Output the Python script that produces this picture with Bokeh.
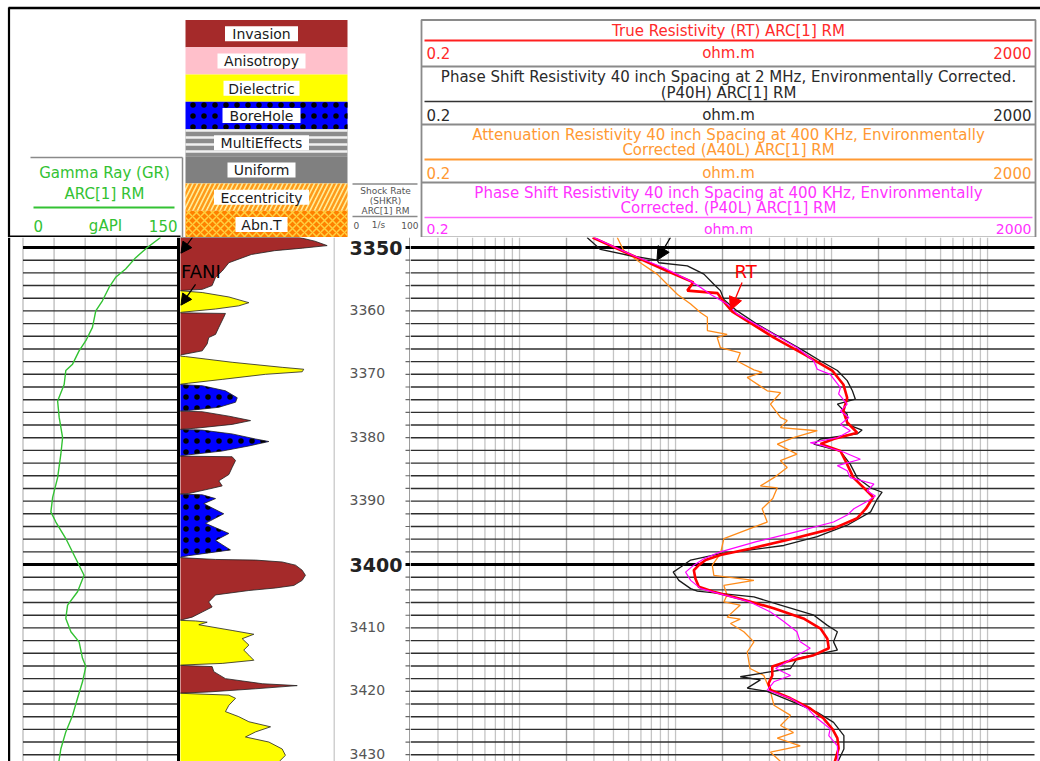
from bokeh.plotting import figure
from bokeh.layouts import column, row
from bokeh.models import Range1d, Arrow, NormalHead
from bokeh.core.properties import value
from bokeh.embed import file_html
from bokeh.resources import INLINE

FONT = value("DejaVu Sans")

# ---------------- data ----------------
DEPTH_TOP = 3348.42
DEPTH_BOTTOM = 3431.07
depth_lines = list(range(3350, 3431, 2))
depth_major = [3350, 3400]
depth_minor_labels = [3360, 3370, 3380, 3390, 3410, 3420, 3430]

gr_ticks = [0, 30, 60, 90, 120]
gr_depth = [3348.42, 3350.0, 3351.6, 3353.4, 3354.7, 3356.3, 3358.4, 3360.0, 3362.6, 3364.7,
            3366.3, 3368.4, 3369.4, 3371.6, 3374.2, 3376.8, 3380.0, 3382.6, 3386.3, 3389.4,
            3391.7, 3393.3, 3395.9, 3399.1, 3401.7, 3404.3, 3406.4, 3408.5, 3410.6, 3412.2,
            3414.8, 3416.1, 3418.5, 3421.1, 3423.8, 3426.4, 3429.1, 3431.07]
gr_api = [132.7, 119.9, 108.7, 99.0, 89.4, 83.0, 76.6, 70.2, 67.0, 60.6,
          54.1, 47.8, 41.3, 39.7, 33.4, 34.9, 38.2, 36.5, 33.4, 28.6,
          26.9, 31.7, 41.3, 51.0, 58.9, 52.6, 43.0, 41.3, 46.2, 54.1,
          57.4, 60.6, 57.4, 52.6, 47.8, 41.3, 36.5, 34.6]

res_grid = [0.3, 0.4, 0.5, 0.6, 0.7, 0.8, 0.9, 1, 3, 4, 5, 6, 7, 8, 9, 10,
            30, 40, 50, 60, 70, 80, 90, 100, 300, 400, 500, 600, 700, 800, 900, 1000]
res_decades = [2, 20, 200]

rt_depth = [3348.42, 3351.6, 3353.7, 3355.5, 3356.8, 3357.2, 3358.3, 3360.1, 3364.2, 3366.8,
            3369.4, 3371.6, 3373.7, 3375.8, 3377.6, 3379.2, 3380.2, 3381.0, 3382.1, 3384.2,
            3386.3, 3388.4, 3389.4, 3391.2, 3392.7, 3394.3, 3395.9, 3397.5, 3398.5, 3399.3,
            3400.1, 3400.9, 3402.2, 3403.5, 3404.3, 3405.4, 3406.9, 3408.5, 3410.1, 3411.7,
            3413.2, 3414.3, 3415.3, 3416.1, 3417.5, 3418.8, 3419.8, 3421.1, 3422.7, 3424.3,
            3425.9, 3427.4, 3429.0, 3431.07]
rt_val = [2.94, 5.68, 8.84, 13.0, 11.9, 18.6, 20.0, 23.1, 42.7, 66.4,
          101, 119, 126, 119, 126, 146, 103, 85, 114, 126,
          138, 169, 185, 166, 146, 103, 57, 30, 19.4, 15.6,
          14.1, 13.1, 13.4, 14.1, 17.5, 26, 42.5, 66, 85, 94,
          96, 77, 52, 41.7, 41.7, 39.4, 40.6, 54.6, 73, 89,
          101, 109, 111, 105]

p40h_depth = [3348.42, 3350.3, 3351.3, 3352.0, 3352.4, 3352.9, 3354.2, 3355.8, 3356.8, 3358.2,
              3360.0, 3362.1, 3364.2, 3366.3, 3367.9, 3369.4, 3371.0, 3372.6, 3373.9, 3374.7,
              3376.3, 3377.9, 3378.8, 3379.4, 3380.2, 3381.0, 3382.1, 3384.2, 3386.3, 3387.9,
              3388.6, 3389.7, 3391.7, 3393.8, 3395.6, 3397.0, 3398.3, 3399.3, 3400.4, 3401.2,
              3402.5, 3403.8, 3404.2, 3405.1, 3406.4, 3408.0, 3409.6, 3410.6, 3412.2, 3413.5,
              3414.8, 3416.4, 3417.7, 3418.2, 3419.5, 3420.0, 3421.7, 3423.3, 3424.9, 3427.0,
              3429.1, 3431.07]
p40h_val = [2.71, 3.30, 5.14, 7.62, 7.81, 11.9, 15.2, 17.6, 19.4, 20.4,
            24.8, 33.4, 47.1, 66.4, 85, 109, 126, 136, 142, 109,
            126, 126, 157, 146, 85, 77, 114, 132, 146, 178,
            211, 196, 178, 126, 81, 49.4, 19.4, 12.5, 10.8, 9.66,
            10.5, 12.5, 13.8, 31.8, 47.1, 77, 94, 109, 103, 109,
            60.2, 54.6, 26, 35, 28.8, 38.7, 57, 81, 103, 120,
            120, 110]

a40l_depth = [3348.42, 3350.5, 3351.6, 3352.6, 3354.2, 3355.8, 3357.4, 3358.9, 3360.3, 3361.0,
              3363.1, 3363.7, 3364.2, 3365.8, 3366.6, 3367.9, 3369.3, 3369.7, 3370.5, 3372.6,
              3372.9, 3374.7, 3376.8, 3377.3, 3378.4, 3378.9, 3380.0, 3381.0, 3382.6, 3383.6,
              3384.7, 3386.3, 3387.6, 3387.9, 3389.6, 3391.2, 3393.3, 3394.1, 3395.9, 3398.3,
              3400.1, 3401.7, 3402.5, 3403.3, 3404.8, 3405.9, 3406.4, 3408.3, 3408.6, 3409.3,
              3410.6, 3412.2, 3413.8, 3416.4, 3417.5, 3420.0, 3422.2, 3423.8, 3425.4, 3426.5,
              3427.4, 3428.6, 3429.6, 3431.07]
a40l_val = [4.23, 4.66, 5.4, 6.11, 7.62, 8.84, 10.3, 12.5, 14.5, 16.0,
            16.0, 21.4, 18.5, 19.4, 26, 24.8, 31.8, 35.9, 28.8, 38.7,
            47.1, 40.6, 47.1, 52, 47.1, 81, 57, 44.9, 60, 47,
            52, 42.7, 35, 44.9, 42, 35.9, 38.7, 31.8, 20.4, 19.4,
            17.2, 17.6, 31.8, 20.4, 21.4, 20.4, 26, 21.4, 26, 22.5,
            27.4, 31.8, 28.8, 30, 36.8, 40.6, 42.7, 54.6, 47.1, 57,
            44.9, 63, 40.6, 47.1]

p40l_depth = [3348.42, 3351.3, 3353.2, 3355.3, 3356.3, 3357.4, 3358.9, 3360.5, 3363.1, 3365.8,
              3367.9, 3369.2, 3370.0, 3372.1, 3373.1, 3374.7, 3375.8, 3376.8, 3377.9, 3378.9,
              3380.0, 3380.8, 3381.3, 3382.3, 3383.4, 3384.4, 3385.2, 3386.3, 3387.3, 3388.4,
              3389.2, 3389.9, 3391.2, 3392.2, 3393.3, 3394.8, 3396.4, 3398.0, 3399.1, 3400.1,
              3401.2, 3402.5, 3403.8, 3404.8, 3405.9, 3407.5, 3409.0, 3410.6, 3412.2, 3413.2,
              3414.3, 3415.3, 3416.4, 3417.5, 3418.5, 3419.8, 3421.1, 3422.7, 3424.3, 3425.9,
              3427.0, 3428.6, 3431.07]
p40l_val = [2.99, 5.4, 8.4, 12.5, 14.5, 16.8, 21.4, 24.8, 38.7, 60.2,
            77, 81, 98, 114, 111, 126, 114, 129, 114, 132,
            109, 73, 89, 120, 153, 109, 126, 132, 187, 169,
            191, 173, 139, 126, 103, 60, 33, 19.4, 15.2, 13.1,
            11.6, 12.5, 14.5, 20.4, 30, 40.6, 49.4, 60, 63, 73,
            60, 52, 43.8, 54.6, 42.7, 38.7, 54.6, 70, 81, 98,
            96, 109, 110]

# anomaly flags (magnitude in % of track width)
anom_type = ["Invasion", "Dielectric", "Invasion", "Dielectric", "BoreHole", "Invasion",
             "BoreHole", "Invasion", "BoreHole", "Invasion", "Dielectric", "Invasion", "Dielectric"]
anom_top = [3348.42, 3356.8, 3360.3, 3367.1, 3371.6, 3375.8, 3378.7, 3382.9, 3388.9,
            3398.9, 3408.8, 3415.9, 3420.3]
anom_base = [3356.8, 3360.3, 3367.1, 3371.6, 3375.8, 3378.7, 3382.9, 3388.9, 3398.9,
             3408.8, 3415.9, 3420.3, 3431.07]
anom_depth = [
    [3348.42, 3349.0, 3349.7, 3350.1, 3350.5, 3351.1, 3352.4, 3353.7, 3354.7, 3356.0, 3356.6],
    [3357.1, 3357.8, 3358.7, 3359.2, 3359.7, 3360.2],
    [3360.4, 3361.0, 3362.6, 3363.7, 3364.2, 3365.2, 3366.3, 3366.9],
    [3367.2, 3368.1, 3368.9, 3369.2, 3369.6, 3370.0, 3370.8, 3371.4],
    [3371.8, 3372.6, 3373.7, 3374.4, 3375.2, 3375.7],
    [3375.9, 3376.6, 3377.3, 3377.9, 3378.5],
    [3378.8, 3379.4, 3380.2, 3380.6, 3381.3, 3382.1, 3382.7],
    [3383.0, 3383.6, 3384.7, 3385.8, 3386.8, 3387.6, 3388.1, 3388.8],
    [3389.0, 3389.6, 3390.4, 3392.0, 3393.5, 3395.1, 3396.2, 3397.7, 3398.6],
    [3399.2, 3399.3, 3399.6, 3400.1, 3400.9, 3401.7, 3402.5, 3403.3, 3403.7, 3404.1,
     3404.8, 3405.9, 3406.7, 3407.5, 3408.3, 3408.7],
    [3408.9, 3409.1, 3409.5, 3410.4, 3411.0, 3411.7, 3412.7, 3413.5, 3414.3, 3415.1,
     3415.6, 3415.85],
    [3416.1, 3416.9, 3418.0, 3418.8, 3419.1, 3419.6, 3420.1],
    [3420.6, 3421.1, 3422.2, 3423.2, 3424.0, 3424.8, 3425.6, 3426.4, 3427.2, 3428.0,
     3429.1, 3430.1, 3431.07],
]
anom_val = [
    [78, 88, 95.9, 80, 62, 47, 32.5, 28.2, 23.9, 21.7, 15.3],
    [15.3, 32.5, 45.4, 38.9, 23.9, 2.4],
    [30.3, 29.2, 26.0, 23.9, 19.5, 18.5, 15.3, 2.4],
    [4.5, 34.6, 66.9, 80.8, 79.8, 56.1, 28.2, 6.6],
    [15.3, 30.3, 37.9, 36.8, 26.0, 6.6],
    [15.3, 32.5, 46.5, 34.6, 11.0],
    [15.3, 34.6, 49.7, 58.3, 45.4, 28.2, 6.6],
    [34.6, 36.8, 34.6, 32.5, 26.0, 28.2, 19.5, 6.6],
    [15.3, 23.9, 16.3, 29.2, 17.4, 32.5, 23.9, 33.5, 6.5],
    [23.9, 49.7, 66.9, 75.5, 79.8, 81.9, 79.8, 74.4, 62.6, 45.4,
     23.9, 19.5, 21.7, 15.3, 8.8, 2.4],
    [11.0, 18.5, 13.1, 34.6, 48.6, 41.1, 45.4, 42.1, 45.4, 48.6, 28.2, 2.4],
    [21.7, 22.8, 30.3, 54.0, 76.6, 49.7, 19.5],
    [32.5, 36.8, 32.5, 30.3, 38.9, 45.4, 59.4, 49.7, 43.2, 58.3, 66.9, 69.0, 65.0],
]

legend_names = ["Invasion", "Anisotropy", "Dielectric", "BoreHole",
                "MultiEffects", "Uniform", "Eccentricity", "Abn.T"]

# ---------------- styles ----------------
STY = {
    "Invasion": dict(fill_color="#a52a2a"),
    "Anisotropy": dict(fill_color="#ffc0cb"),
    "Dielectric": dict(fill_color="#ffff00"),
    "BoreHole": dict(fill_color="#0000ff", hatch_pattern="dot", hatch_color="black",
                     hatch_scale=11),
    "MultiEffects": dict(fill_color="#8c8c8c", hatch_pattern="horizontal_line",
                         hatch_color="#f0f0f0", hatch_scale=7, hatch_weight=2.5),
    "Uniform": dict(fill_color="#808080"),
    "Eccentricity": dict(fill_color="#ffee99", hatch_pattern="right_diagonal_line",
                         hatch_color="#ff9a1a", hatch_scale=9, hatch_weight=2.5),
    "Abn.T": dict(fill_color="#ff8000", hatch_pattern="diagonal_cross",
                  hatch_color="#ffd040", hatch_scale=8, hatch_weight=1.5),
}
RED, ORANGE, MAGENTA, GREEN = "#ff2020", "#ff8c1a", "#ff00ff", "#33c233"


def make_fig(width, height, xr, yr, x_axis_type="linear"):
    p = figure(width=width, height=height, x_range=xr, y_range=yr,
               x_axis_type=x_axis_type, x_axis_location=None, y_axis_location=None,
               toolbar_location=None, output_backend="svg", min_border=0,
               outline_line_color=None, background_fill_color="white",
               border_fill_color="white")
    p.xgrid.visible = False
    p.ygrid.visible = False
    return p


def txt(p, x, y, s, size, color, align="center", style="normal"):
    p.text(x=[x], y=[y], text=[s], text_font=FONT, text_font_size=size,
           text_color=color, text_align=align, text_baseline="middle",
           text_font_style=style)


def hsegs(p, x0, x1, ys, color, width):
    p.segment(x0=[x0] * len(ys), x1=[x1] * len(ys), y0=ys, y1=ys,
              line_color=color, line_width=width)


def vsegs(p, xs, y0, y1, color, width):
    p.segment(x0=xs, x1=xs, y0=[y0] * len(xs), y1=[y1] * len(xs),
              line_color=color, line_width=width)


yr = Range1d(start=DEPTH_BOTTOM, end=DEPTH_TOP)
minor_lines = [d for d in depth_lines if d not in depth_major]
H = 524

# ---------------- GR track ----------------
gr = make_fig(180, H, Range1d(-21.70, 151.93), yr)
vsegs(gr, gr_ticks, DEPTH_TOP, DEPTH_BOTTOM, "#c4c4c4", 1.5)
hsegs(gr, 0, 150, minor_lines, "#2e2e2e", 1.4)
hsegs(gr, 0, 150, depth_major, "black", 3)
vsegs(gr, [150], DEPTH_TOP, DEPTH_BOTTOM, "black", 3)
vsegs(gr, [-13.4], DEPTH_TOP, DEPTH_BOTTOM, "black", 2.2)
gr.line(gr_api, gr_depth, line_color=GREEN, line_width=1.4)

# ---------------- anomaly track ----------------
an = make_fig(153, H, Range1d(1.29, 100), yr)
for kind in ["Invasion", "Dielectric", "BoreHole"]:
    xs, ys = [], []
    for t, top, base, dd, vv in zip(anom_type, anom_top, anom_base, anom_depth, anom_val):
        if t == kind:
            xs.append([0] + vv + [0])
            ys.append([top] + dd + [base])
    an.patches(xs, ys, line_color="#222222", line_width=0.8, **STY[kind])
an.add_layout(Arrow(end=NormalHead(size=11, fill_color="black", line_color="black"),
                    x_start=9, y_start=DEPTH_TOP, x_end=1.5, y_end=3350.9,
                    line_color="black", line_width=1.2))
an.add_layout(Arrow(end=NormalHead(size=11, fill_color="black", line_color="black"),
                    x_start=11, y_start=3355.8, x_end=1.5, y_end=3359.1,
                    line_color="black", line_width=1.2))
txt(an, 1.6, 3353.8, "FANI", "18px", "black", align="left")

# ---------------- depth track ----------------
dp = make_fig(77, H, Range1d(0, 77), yr)
vsegs(dp, [0.5], DEPTH_TOP, DEPTH_BOTTOM, "#b0b0b0", 1.2)
vsegs(dp, [76.3], DEPTH_TOP, DEPTH_BOTTOM, "#999999", 1.5)
hsegs(dp, 72, 77, minor_lines, "#666666", 1.2)
hsegs(dp, 72, 77, depth_major, "black", 3)
dp.text(x=[16] * len(depth_minor_labels), y=depth_minor_labels,
        text=[str(d) for d in depth_minor_labels], text_font=FONT,
        text_font_size="14px", text_color="#555555", text_align="left",
        text_baseline="middle", y_offset=-1)
dp.text(x=[16] * len(depth_major), y=depth_major,
        text=[str(d) for d in depth_major], text_font=FONT,
        text_font_size="19px", text_color="#222222", text_align="left",
        text_baseline="middle", text_font_style="bold")

# ---------------- resistivity track ----------------
rs = make_fig(630, H, Range1d(0.2, 2185), yr, "log")
vsegs(rs, res_grid, DEPTH_TOP, DEPTH_BOTTOM, "#c4c4c4", 1.3)
vsegs(rs, res_decades, DEPTH_TOP, DEPTH_BOTTOM, "#a8a8a8", 1.4)
hsegs(rs, 0.2, 2000, minor_lines, "#2e2e2e", 1.4)
hsegs(rs, 0.2, 2000, depth_major, "black", 3)
rs.line(a40l_val, a40l_depth, line_color=ORANGE, line_width=1.3)
rs.line(p40h_val, p40h_depth, line_color="#1a1a1a", line_width=1.3)
rs.line(rt_val, rt_depth, line_color="#ff0000", line_width=2.6)
rs.line(p40l_val, p40l_depth, line_color=MAGENTA, line_width=1.2)
rs.add_layout(Arrow(end=NormalHead(size=13, fill_color="black", line_color="black"),
                    x_start=9.28, y_start=DEPTH_TOP, x_end=7.6, y_end=3352.0,
                    line_color="black", line_width=1.3))
rs.add_layout(Arrow(end=NormalHead(size=13, fill_color="#ff0000", line_color="#ff0000"),
                    x_start=26.7, y_start=3355.5, x_end=22.5, y_end=3359.9,
                    line_color="#ff0000", line_width=1.3))
txt(rs, 28.1, 3353.8, "RT", "18px", "#ff0000")

# ---------------- header ----------------
hd = make_fig(1040, 237, Range1d(0, 1040), Range1d(237, 0))
# frame
hsegs(hd, 8, 1040, [7.5], "black", 2.5)
vsegs(hd, [8.5], 7, 237, "black", 2.2)
hsegs(hd, 8, 180, [236], "black", 2)

# GR header
hsegs(hd, 30, 182, [157], "#8a8a8a", 1.5)
vsegs(hd, [182], 157, 237, "#8a8a8a", 1.5)
hsegs(hd, 33, 174, [207], GREEN, 2)
txt(hd, 104, 172, "Gamma Ray (GR)", "15px", GREEN)
txt(hd, 104, 193, "ARC[1] RM", "15px", GREEN)
txt(hd, 33, 225, "0", "15px", GREEN, align="left")
txt(hd, 105, 225, "gAPI", "15px", GREEN)
txt(hd, 177, 225, "150", "15px", GREEN, align="right")

# legend of anomaly flags
row_h = (237.5 - 19.5) / len(legend_names)
label_w = [73, 88, 76, 78, 95, 68, 95, 52]
for i, name in enumerate(legend_names):
    top = 19.5 + i * row_h
    hd.quad(left=185, right=347, top=top, bottom=top + row_h, line_color=None, **STY[name])
    cy = top + row_h / 2
    hd.quad(left=261 - label_w[i] / 2, right=261 + label_w[i] / 2, top=cy - 7.5,
            bottom=cy + 7.5, fill_color="white", line_color=None)
    txt(hd, 261, cy + 0.5, name, "14px", "#1a1a1a")

# shock rate header
hsegs(hd, 352, 417, [183.5, 216], "#8a8a8a", 1.3)
for yy, s in zip([190, 200.5, 210.5], ["Shock Rate", "(SHKR)", "ARC[1] RM"]):
    txt(hd, 385, yy, s, "9px", "#555555")
txt(hd, 353, 224.5, "0", "9px", "#555555", align="left")
txt(hd, 378, 224.5, "1/s", "9px", "#555555")
txt(hd, 418, 224.5, "100", "9px", "#555555", align="right")

# resistivity header
RX0, RX1, RC = 421, 1035, 728
hd.quad(left=RX0, right=RX1, top=19.5, bottom=237, fill_color=None,
        line_color="#8a8a8a", line_width=1.8)
hsegs(hd, RX0, RX1, [66, 124, 182], "#8a8a8a", 1.8)
hsegs(hd, 424, 1032, [40], RED, 2.2)
hsegs(hd, 424, 1032, [101], "#333333", 1.6)
hsegs(hd, 424, 1032, [159], "#ff9933", 2.2)
hsegs(hd, 424, 1032, [217], "#ff66ff", 1.6)

res_headers = [
    (["True Resistivity (RT) ARC[1] RM"], [30], 52, "#ff2a2a"),
    (["Phase Shift Resistivity 40 inch Spacing at 2 MHz, Environmentally Corrected.",
      "(P40H) ARC[1] RM"], [76, 92], 114, "#2a2a2a"),
    (["Attenuation Resistivity 40 inch Spacing at 400 KHz, Environmentally",
      "Corrected (A40L) ARC[1] RM"], [134, 149], 172, "#ff9933"),
    (["Phase Shift Resistivity 40 inch Spacing at 400 KHz, Environmentally",
      "Corrected. (P40L) ARC[1] RM"], [192, 207], 228.3, "#ff33ff"),
]
for i, (lines, ys, sy, col) in enumerate(res_headers):
    for s, yy in zip(lines, ys):
        txt(hd, RC, yy, s, "15px", col)
    fs = "14px" if i == 3 else "15px"
    txt(hd, 426, sy, "0.2", fs, col, align="left")
    txt(hd, RC, sy, "ohm.m", fs, col)
    txt(hd, 1031, sy, "2000", fs, col, align="right")

layout = column(hd, row(gr, an, dp, rs))
open("out.html", "w").write(file_html(layout, INLINE))
